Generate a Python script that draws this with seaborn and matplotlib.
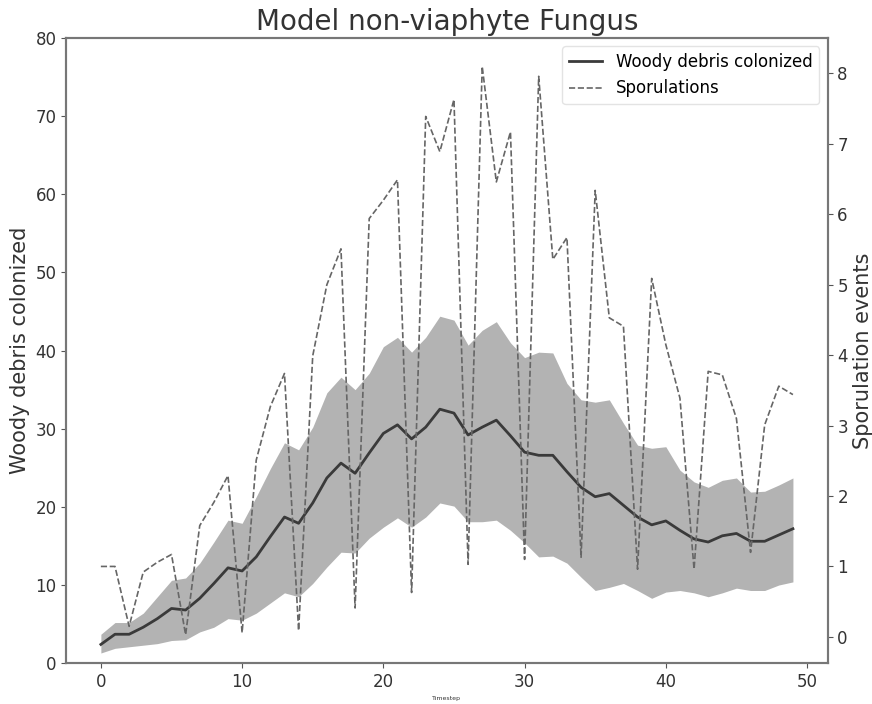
import numpy as np
import pandas as pd
import matplotlib
matplotlib.use("Agg")
import matplotlib.pyplot as plt
import seaborn as sns

# values
timestep = list(range(50))

woody_mean = [2.4, 3.7, 3.7, 4.6, 5.7, 7.0, 6.8, 8.3, 10.2, 12.2,
              11.8, 13.6, 16.2, 18.7, 17.9, 20.5, 23.7, 25.6, 24.3, 26.9,
              29.4, 30.5, 28.7, 30.2, 32.5, 32.0, 29.2, 30.2, 31.1, 29.1,
              27.0, 26.6, 26.6, 24.5, 22.5, 21.3, 21.7, 20.2, 18.7, 17.7,
              18.2, 17.0, 15.9, 15.5, 16.3, 16.6, 15.6, 15.6, 16.4, 17.2]

woody_upper = [3.7, 5.2, 5.2, 6.4, 8.5, 10.6, 10.9, 12.8, 15.5, 18.3,
               17.9, 21.3, 24.9, 28.2, 27.3, 30.2, 34.6, 36.6, 35.0, 37.1,
               40.5, 41.7, 39.8, 41.7, 44.4, 43.9, 40.7, 42.6, 43.7, 41.0,
               39.1, 39.8, 39.7, 35.8, 33.7, 33.4, 33.7, 30.7, 27.9, 27.5,
               27.7, 24.7, 23.2, 22.5, 23.4, 23.7, 21.9, 22.0, 22.8, 23.7]

woody_lower = [1.3, 1.9, 2.1, 2.3, 2.5, 2.9, 3.0, 4.0, 4.6, 5.7,
               5.5, 6.4, 7.7, 9.0, 8.5, 10.2, 12.3, 14.2, 14.1, 16.0,
               17.4, 18.6, 17.4, 18.7, 20.5, 20.1, 18.1, 18.1, 18.3, 17.0,
               15.4, 13.6, 13.7, 12.8, 11.0, 9.3, 9.7, 10.2, 9.3, 8.3,
               9.1, 9.3, 9.0, 8.5, 9.0, 9.6, 9.3, 9.3, 10.0, 10.4]

sporulations = [1.0, 1.0, 0.15, 0.92, 1.06, 1.17, 0.03, 1.58, 1.91, 2.29,
                0.06, 2.51, 3.27, 3.74, 0.09, 3.99, 5.0, 5.51, 0.41, 5.94,
                6.2, 6.49, 0.63, 7.39, 6.89, 7.63, 1.03, 8.1, 6.46, 7.17,
                1.1, 7.96, 5.36, 5.67, 1.13, 6.34, 4.53, 4.41, 0.96, 5.09,
                4.15, 3.39, 0.96, 3.77, 3.72, 3.1, 1.2, 3.01, 3.56, 3.44]

df = pd.DataFrame({"Timestep": timestep, "Woody": woody_mean,
                   "Spores": sporulations})

fig, ax = plt.subplots(figsize=(8.72, 7.04), dpi=100)
fig.subplots_adjust(left=0.076, right=0.949, top=0.946, bottom=0.058)

ax.fill_between(timestep, woody_lower, woody_upper, color="#b3b3b3", linewidth=0)
sns.lineplot(data=df, x="Timestep", y="Woody", ax=ax, color="#3a3a3a",
             linewidth=2, label="Woody debris colonized", legend=False)
ax.set_ylim(0, 80)
ax.set_ylabel("Woody debris colonized", fontsize=15, color="#333333")
ax.set_xlabel("Timestep", fontsize=4.5, color="#333333")
ax.set_title("Model non-viaphyte Fungus", fontsize=20, color="#333333")

ax2 = ax.twinx()
sns.lineplot(data=df, x="Timestep", y="Spores", ax=ax2, color="#666666",
             linewidth=1.2, linestyle="--", label="Sporulations", legend=False)
ax2.set_ylabel("Sporulation events", fontsize=15, color="#333333")

for a in (ax, ax2):
    a.tick_params(labelsize=12, colors="#555555", labelcolor="#333333")
    for s in a.spines.values():
        s.set_color("#777777")
        s.set_linewidth(1.5)

handles = ax.get_lines()[:1] + ax2.get_lines()[:1]
ax2.legend(handles, [h.get_label() for h in handles], loc="upper right",
           fontsize=12, framealpha=0.8, edgecolor="#dddddd")

plt.savefig("out.png")
